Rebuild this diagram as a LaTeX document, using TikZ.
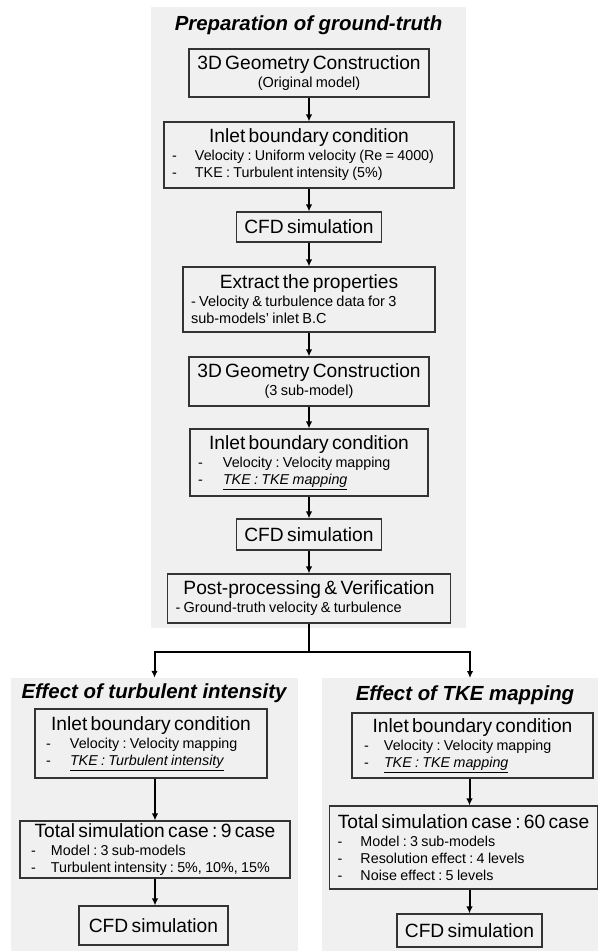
\documentclass[tikz,border=0pt]{standalone}
\usepackage{fontspec}
\setmainfont{Liberation Sans}
\usetikzlibrary{arrows.meta,calc}
\definecolor{panelgray}{HTML}{F0F0F0}
\definecolor{boxline}{HTML}{333333}
\frenchspacing
\newcommand{\hd}[1]{{\centering\fontsize{19.2}{22}\selectfont #1\par}\vspace{1pt}}
\newcommand{\subl}[1]{{\centering\fontsize{14.5}{17}\selectfont #1\par}}
\newcommand{\itm}[3]{{\fontsize{14.3}{17}\selectfont\frenchspacing\noindent\hspace*{#1}\makebox[#2][l]{-}#3\par}}
\begin{document}
\begin{tikzpicture}[x=1pt,y=-1pt,
  panel/.style={fill=panelgray, draw=none, inner sep=0pt},
  box/.style={draw=boxline, line width=1.1pt, fill=panelgray, inner sep=0pt, anchor=center},
  ttl/.style={font=\fontsize{20.4}{23}\selectfont\bfseries\itshape, inner sep=0pt},
  arr/.style={line width=2pt, -{Latex[length=7pt,width=6.5pt]}},
  ln/.style={line width=2pt}]
\useasboundingbox (0,0) rectangle (598,951);
% panels
\node[panel, minimum width=315pt, minimum height=621pt] (pT) at (308.5,317.5) {};
\node[panel, minimum width=287pt, minimum height=273pt] (pL) at (154.5,814.5) {};
\node[panel, minimum width=276pt, minimum height=273pt] (pR) at (460,814.5) {};
% titles
\node[ttl] (tT) at (308.5,25) {Preparation of ground-truth};
\node[ttl] (tL) at (154,693) {Effect of turbulent intensity};
\node[ttl] (tR) at (465,695) {Effect of TKE mapping};
% top column
\node[box, minimum width=240pt, minimum height=48pt, text width=240pt] (b1) at (309,73)
  {\hd{3D Geometry Construction}\subl{(Original model)}};
\node[box, minimum width=290pt, minimum height=66pt, text width=290pt] (b2) at (309,155)
  {\hd{Inlet boundary condition}\itm{8pt}{23pt}{Velocity : Uniform velocity (Re = 4000)}\itm{8pt}{23pt}{TKE : Turbulent intensity (5\%)}};
\node[box, minimum width=145pt, minimum height=30pt, text width=145pt] (b3) at (309,227)
  {\hd{CFD simulation}};
\node[box, minimum width=252pt, minimum height=65pt, text width=252pt] (b4) at (309,299.5)
  {\hd{Extract the properties}{\fontsize{14.5}{17}\selectfont\noindent\hspace*{8pt}- Velocity \& turbulence data for 3\par\noindent\hspace*{8pt}sub-models' inlet B.C\par}};
\node[box, minimum width=240pt, minimum height=49pt, text width=240pt] (b5) at (309,381.5)
  {\hd{3D Geometry Construction}\subl{(3 sub-model)}};
\node[box, minimum width=238pt, minimum height=67pt, text width=238pt] (b6) at (309,462.5)
  {\hd{Inlet boundary condition}\itm{8pt}{25pt}{Velocity : Velocity mapping}\itm{8pt}{25pt}{\underline{\itshape TKE : TKE mapping}}};
\node[box, minimum width=145pt, minimum height=31pt, text width=145pt] (b7) at (309,534.5)
  {\hd{CFD simulation}};
\node[box, minimum width=283pt, minimum height=49pt, text width=283pt] (b8) at (309,598.5)
  {\hd{Post-processing \& Verification}{\fontsize{14.5}{17}\selectfont\noindent\hspace*{8pt}- Ground-truth velocity \& turbulence\par}};
% left column
\node[box, minimum width=232pt, minimum height=69pt, text width=232pt] (l1) at (151,743.5)
  {\hd{Inlet boundary condition}\itm{11pt}{24pt}{Velocity : Velocity mapping}\itm{11pt}{24pt}{\underline{\itshape TKE : Turbulent intensity}}};
\node[box, minimum width=270pt, minimum height=57pt, text width=270pt] (l2) at (155,849.5)
  {\hd{Total simulation case : 9 case}\itm{11pt}{20pt}{Model : 3 sub-models}\itm{11pt}{20pt}{Turbulent intensity : 5\%, 10\%, 15\%}};
\node[box, minimum width=149pt, minimum height=39pt, text width=149pt] (l3) at (153.5,925.5)
  {\hd{CFD simulation}};
% right column
\node[box, minimum width=241pt, minimum height=65pt, text width=241pt] (r1) at (472.5,745.5)
  {\hd{Inlet boundary condition}\itm{12pt}{20pt}{Velocity : Velocity mapping}\itm{12pt}{20pt}{\underline{\itshape TKE : TKE mapping}}};
\node[box, minimum width=268pt, minimum height=83pt, text width=268pt] (r2) at (463.5,847.5)
  {\hd{Total simulation case : 60 case}\itm{8pt}{23pt}{Model : 3 sub-models}\itm{8pt}{23pt}{Resolution effect : 4 levels}\itm{8pt}{23pt}{Noise effect : 5 levels}};
\node[box, minimum width=145pt, minimum height=33pt, text width=145pt] (r3) at (469.5,930.5)
  {\hd{CFD simulation}};
% connectors top
\draw[arr] (b1.south) -- (b2.north);
\draw[arr] (b2.south) -- (b3.north);
\draw[arr] (b3.south) -- (b4.north);
\draw[arr] (b4.south) -- (b5.north);
\draw[arr] (b5.south) -- (b6.north);
\draw[arr] (b6.south) -- (b7.north);
\draw[arr] (b7.south) -- (b8.north);
% split
\coordinate (split) at (309,652);
\coordinate (rtop) at (470,678);
\draw[ln] (b8.south) -- (split);
\draw[arr] (split) -| (pL.north);
\draw[arr] (split) -| (rtop);
% left connectors
\draw[arr] (l2.north |- l1.south) -- (l2.north);
\draw[arr] (l2.south) -- (l2.south |- l3.north);
% right connectors
\draw[arr] (r3.north |- r1.south) -- (r3.north |- r2.north);
\draw[arr] (r3.north |- r2.south) -- (r3.north);
\end{tikzpicture}
\end{document}
